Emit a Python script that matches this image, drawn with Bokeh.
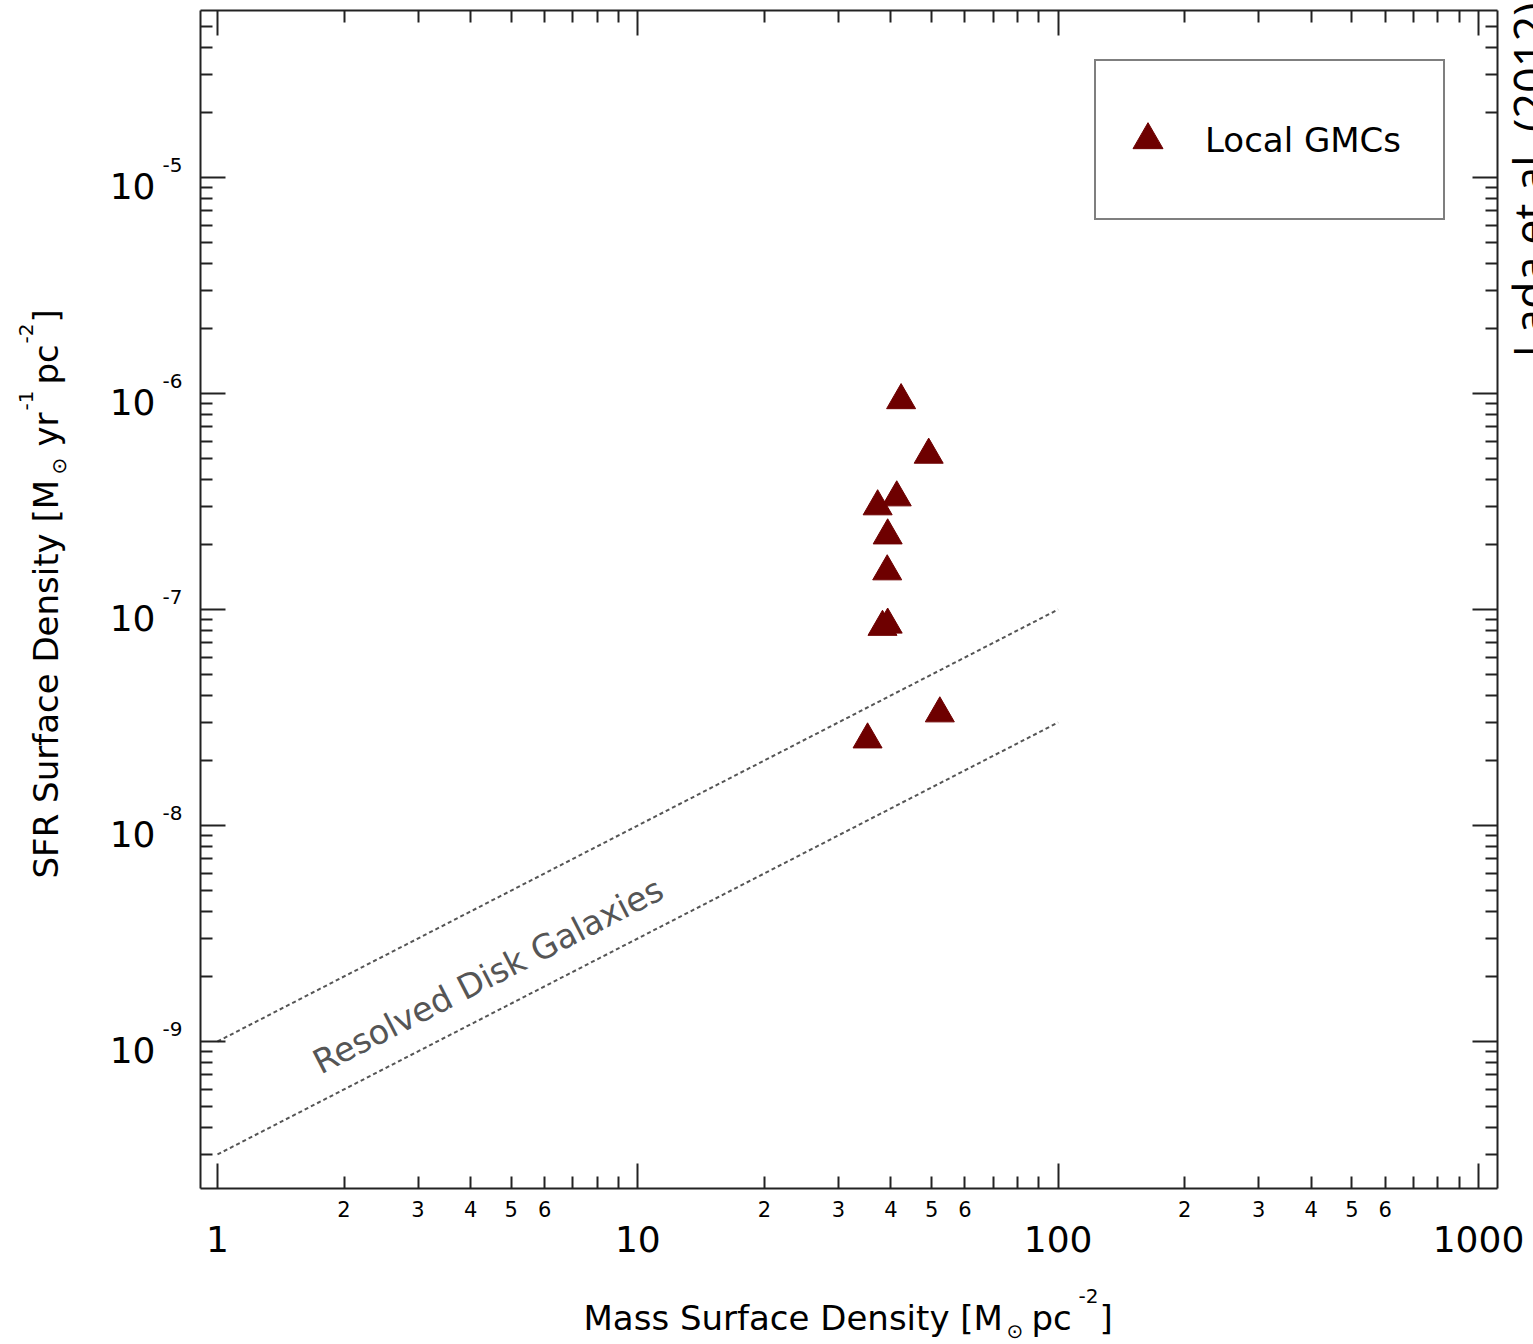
import math
from bokeh.plotting import figure
from bokeh.models import LogAxis, FixedTicker, Label, ColumnDataSource, Range1d, LogScale
from bokeh.embed import file_html
from bokeh.resources import INLINE

# ---------------- data ----------------
gmc_x = [42.3, 49.2, 37.2, 41.3, 39.3, 39.2, 38.2, 39.3, 52.3, 35.2]
gmc_y = [9.3e-7, 5.2e-7, 3.0e-7, 3.3e-7, 2.2e-7, 1.5e-7, 8.3e-8, 8.5e-8, 3.3e-8, 2.5e-8]

disk_x = [1, 100]
disk_upper_y = [1e-9, 1e-7]
disk_lower_y = [3e-10, 3e-8]

x_major = [1, 10, 100, 1000]
x_major_labels = ["1", "10", "100", "1000"]
x_minor_label_vals = [2, 3, 4, 5, 6]
y_major = [1e-9, 1e-8, 1e-7, 1e-6, 1e-5]
y_major_exps = ["-9", "-8", "-7", "-6", "-5"]

series_label = "Local GMCs"
disk_label = "Resolved Disk Galaxies"
credit = "Lada et al. (2012)"

# ---------------- geometry (canvas pixels) ----------------
W, H = 1533, 1344
BL, BT, BR, BB = 200, 10, 1497, 1188      # plot box edges
PX_PER_DEC_X = (1478 - 217) / 3.0
PX_PER_DEC_Y = (1041 - 177) / 4.0
LOGX0 = -(217 - BL) / PX_PER_DEC_X        # log10 x at the box's left edge
LOGY1 = -5 + (177 - BT) / PX_PER_DEC_Y    # log10 y at the box's top edge


def X(px):
    return 10 ** (LOGX0 + (px - BL) / PX_PER_DEC_X)


def Y(py):
    return 10 ** (LOGY1 - (py - BT) / PX_PER_DEC_Y)


x_lo, x_hi = X(BL), X(BR)
y_lo, y_hi = Y(BB), Y(BT)

FONT = "DejaVu Sans"
INK = "#222222"
BASE = 0.34   # Label anchor sits this many em above the drawn baseline

p = figure(x_range=Range1d(X(0), X(W)), y_range=Range1d(Y(H), Y(0)),
           x_axis_location=None, y_axis_location=None,
           width=W, height=H, min_border=0,
           output_backend="svg", toolbar_location=None,
           background_fill_color="white", border_fill_color="white")
p.x_scale = LogScale()
p.y_scale = LogScale()
p.outline_line_color = None
p.title.visible = False
for g in p.grid:
    g.visible = False

xminor = [m * 10 ** d for d in range(-1, 4) for m in range(2, 10)]
yminor = [m * 10 ** d for d in range(-11, -3) for m in range(2, 10)]
xminor = [v for v in xminor if x_lo < v < x_hi]
yminor = [v for v in yminor if y_lo < v < y_hi]


def tick_axis(ticks, minor, loc, bounds):
    ax = LogAxis(ticker=FixedTicker(ticks=ticks, minor_ticks=minor),
                 fixed_location=loc, bounds=bounds)
    ax.major_tick_in = 25
    ax.major_tick_out = 0
    ax.minor_tick_in = 12
    ax.minor_tick_out = 0
    ax.major_tick_line_width = 2
    ax.minor_tick_line_width = 2
    ax.major_tick_line_color = INK
    ax.minor_tick_line_color = INK
    ax.axis_line_width = 2
    ax.axis_line_color = INK
    ax.major_label_text_font_size = "1px"
    ax.major_label_text_alpha = 0
    return ax


def label_axis(ticks, labels, size, standoff, loc):
    ax = LogAxis(ticker=FixedTicker(ticks=ticks, minor_ticks=[]),
                 fixed_location=loc)
    ax.major_tick_in = 0
    ax.major_tick_out = 0
    ax.minor_tick_in = 0
    ax.minor_tick_out = 0
    ax.major_tick_line_color = None
    ax.minor_tick_line_color = None
    ax.axis_line_color = None
    ax.major_label_overrides = dict(zip(ticks, labels))
    ax.major_label_text_font = FONT
    ax.major_label_text_font_size = size
    ax.major_label_text_color = "black"
    ax.major_label_standoff = standoff
    return ax


# box sides with inward ticks
p.add_layout(tick_axis(x_major, xminor, y_lo, (x_lo, x_hi)), "below")
p.add_layout(tick_axis(x_major, xminor, y_hi, (x_lo, x_hi)), "above")
p.add_layout(tick_axis(y_major, yminor, x_lo, (y_lo, y_hi)), "left")
p.add_layout(tick_axis(y_major, yminor, x_hi, (y_lo, y_hi)), "right")

# x tick labels: small minor numbers, then decades
xm_ticks = [float(m * d) for d in (1, 10, 100) for m in x_minor_label_vals]
xm_labels = [str(m) for d in (1, 10, 100) for m in x_minor_label_vals]
p.add_layout(label_axis(xm_ticks, xm_labels, "21px", 12, y_lo), "below")
p.add_layout(label_axis([float(v) for v in x_major], x_major_labels, "36px", 37, y_lo), "below")

# y tick labels: "10" with raised exponent
sup_shift = 10 ** (13 / PX_PER_DEC_Y)
ten_shift = 10 ** (-8 / PX_PER_DEC_Y)
p.add_layout(label_axis([v * sup_shift for v in y_major], y_major_exps, "20px", 18, x_lo), "left")
p.add_layout(label_axis([v * ten_shift for v in y_major], ["10"] * len(y_major), "36px", 45, x_lo), "left")

# ---------------- disk galaxy lines ----------------
for ys in (disk_upper_y, disk_lower_y):
    p.line(disk_x, ys, line_color="#555555", line_width=2, line_dash="4 3")

ang = math.degrees(math.atan(PX_PER_DEC_Y / PX_PER_DEC_X))
p.add_layout(Label(x=X(315), y=Y(1064), text=disk_label, angle=ang,
                   angle_units="deg", text_font=FONT, text_font_size="33.5px",
                   text_color="#555555", text_align="left",
                   text_baseline="alphabetic"))

# ---------------- GMC points ----------------
src = ColumnDataSource(dict(x=gmc_x, y=gmc_y))
p.scatter("x", "y", source=src, marker="triangle", size=29,
          fill_color="#6e0000", line_color="#6e0000", line_width=1,
          legend_label=series_label)

lg = p.legend[0]
lg.location = (1094, H - 220)
lg.border_line_color = "black"
lg.border_line_width = 2
lg.background_fill_color = "white"
lg.background_fill_alpha = 1
lg.padding = 14
lg.margin = 0
lg.glyph_width = 75
lg.glyph_height = 129
lg.label_height = 129
lg.label_width = 224
lg.label_standoff = 20
lg.label_text_font = FONT
lg.label_text_font_size = "34px"
lg.label_text_color = "black"


# ---------------- titles (pieces for sub/superscripts) ----------------
def lab(px, py, text, size, angle=0, font=FONT):
    # px/py give the drawn baseline start in canvas pixels
    s = float(size.replace("px", ""))
    if angle == 0:
        ax_, ay_ = px, py - BASE * s
    else:
        ax_, ay_ = px - BASE * s, py
    p.add_layout(Label(x=X(ax_), y=Y(ay_), text=text, angle=angle,
                       angle_units="deg", text_align="left",
                       text_baseline="alphabetic", text_font=font,
                       text_font_size=size, text_color="black"))


lab(583, 1329, "Mass Surface Density [M", "34px")
lab(1006, 1337, "\u2299", "20px")
lab(1031, 1329, "pc", "34px")
lab(1078, 1302, "-2", "20px")
lab(1099, 1329, "]", "34px")

lab(57, 878, "SFR Surface Density [M", "34px", 90)
lab(65, 474, "\u2299", "20px", 90)
lab(57, 446, "yr", "34px", 90)
lab(32, 410, "-1", "20px", 90)
lab(57, 384, "pc", "34px", 90)
lab(32, 343, "-2", "20px", 90)
lab(57, 322, "]", "34px", 90)

lab(1544, 357, credit, "45px", 90, "Open Sans")

open("out.html", "w").write(file_html(p, INLINE))
